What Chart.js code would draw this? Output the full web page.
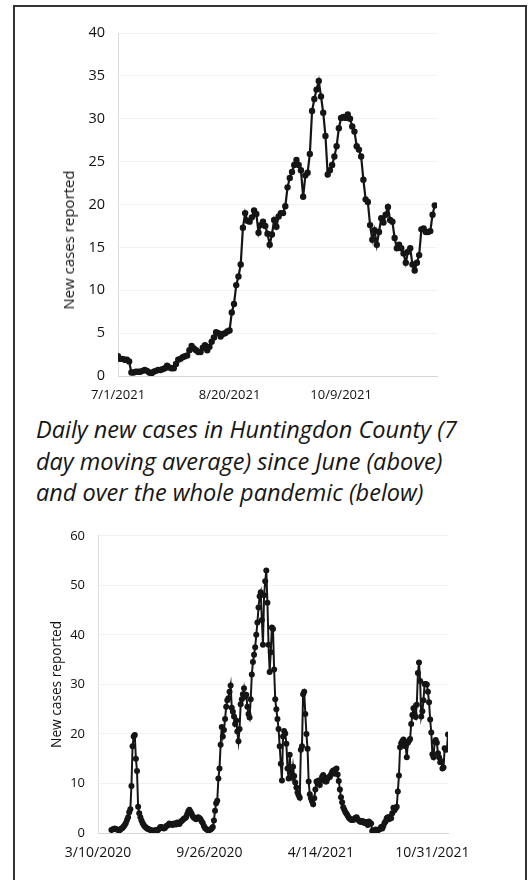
<!DOCTYPE html>
<html>
<head>
<meta charset="utf-8">
<title>Huntingdon County daily new cases</title>
<script src="https://cdn.jsdelivr.net/npm/chart.js@4.4.1/dist/chart.umd.min.js"></script>
<style>
  html, body { margin: 0; padding: 0; background: #fff; }
  body { width: 532px; height: 880px; position: relative; overflow: hidden; font-family: "Open Sans", sans-serif; }
  .frame { position: absolute; left: 13px; top: 5px; width: 514px; height: 900px; border: 2px solid #333; box-sizing: border-box; }
  canvas { position: absolute; left: 20px; }
  #recent { top: 10px; }
  #pandemic { top: 515px; }
  .ytitle { position: absolute; left: 68px; top: 240px; transform: translate(-50%, -50%) rotate(-90deg);
            font-size: 15px; color: #111; white-space: nowrap; }
  .caption { position: absolute; left: 36px; top: 414px; font-style: italic; font-size: 23.5px; line-height: 31.5px;
             color: #161616; white-space: nowrap; }
</style>
</head>
<body>
<div class="frame"></div>
<canvas id="recent" width="490" height="400"></canvas>
<div class="ytitle">New cases reported</div>
<div class="caption">Daily new cases in Huntingdon County (7<br>day moving average) since June (above)<br>and over the whole pandemic (below)</div>
<canvas id="pandemic" width="490" height="365"></canvas>
<script>
// top chart: one value per day, day 0 = 7/1/2021
var recentCases = [
  2.3, 2.0, 2.0, 1.9, 1.9, 1.7, 0.4, 0.4, 0.5, 0.5,
  0.5, 0.6, 0.7, 0.6, 0.4, 0.3, 0.5, 0.6, 0.7, 0.7,
  0.8, 0.9, 1.2, 1.0, 0.9, 0.9, 1.4, 1.9, 2.0, 2.2,
  2.3, 2.4, 3.0, 3.5, 3.2, 3.0, 2.8, 2.8, 3.3, 3.6,
  3.0, 3.4, 4.0, 4.5, 5.1, 5.0, 4.6, 4.9, 5.0, 5.2,
  5.3, 7.4, 8.4, 10.6, 11.6, 13.0, 17.3, 19.0, 18.1, 18.0,
  18.5, 19.3, 18.9, 16.7, 17.6, 18.0, 17.5, 16.6, 15.3, 16.5,
  18.2, 17.4, 18.6, 19.0, 19.0, 19.8, 22.0, 23.1, 23.8, 24.6,
  25.2, 24.6, 24.0, 20.9, 23.4, 23.7, 25.9, 30.9, 32.3, 33.4,
  34.4, 32.6, 30.7, 28.0, 23.5, 24.0, 24.6, 25.6, 26.8, 28.9,
  30.1, 30.2, 30.1, 30.5, 30.0, 29.1, 28.5, 26.8, 26.4, 25.6,
  22.9, 20.6, 20.3, 17.6, 15.9, 17.0, 15.3, 16.8, 18.4, 17.9,
  18.8, 19.7, 18.2, 18.0, 16.1, 14.9, 15.3, 14.9, 14.3, 13.2,
  14.5, 14.9, 13.0, 12.3, 13.2, 14.1, 17.1, 17.2, 16.8, 16.8,
  16.9, 18.8, 19.9
];
var recentTickLabels = ['7/1/2021', '8/20/2021', '10/9/2021'];
var recentTickStep = 50;

// bottom chart: every second day, starting 24 days after 3/10/2020
var pandemicStartDay = 24;
var pandemicStepDays = 2;
var pandemicCases = [
  0.6, 0.7, 0.8, 0.9, 0.8, 0.7, 0.6, 0.5, 0.7, 0.9,
  1.0, 1.3, 1.6, 2.0, 2.6, 3.2, 4.2, 4.8, 9.5, 17.5,
  19.5, 19.8, 15.0, 12.5, 5.3, 4.0, 3.2, 2.5, 2.0, 1.6,
  1.3, 1.1, 0.9, 0.8, 0.7, 0.6, 0.5, 0.5, 0.4, 0.5,
  0.6, 0.5, 0.6, 0.9, 1.2, 1.2, 1.0, 0.9, 1.0, 1.3,
  1.5, 1.6, 1.9, 1.7, 1.8, 1.6, 1.9, 1.8, 1.7, 2.1,
  2.0, 1.8, 2.2, 2.4, 2.6, 2.9, 3.0, 3.2, 3.8, 4.4,
  4.7, 4.3, 3.9, 3.4, 3.1, 3.0, 2.8, 3.1, 3.2, 3.0,
  2.8, 2.3, 2.0, 1.4, 1.0, 0.8, 0.6, 0.5, 0.6, 0.7,
  0.9, 1.2, 2.5, 4.5, 6.0, 6.5, 11.0, 13.0, 17.8, 21.4,
  19.5, 20.8, 23.0, 25.5, 26.8, 27.2, 28.5, 29.8, 25.3, 24.5,
  23.5, 22.0, 22.7, 20.5, 18.5, 21.0, 26.0, 27.0, 28.0, 29.2,
  27.5, 27.9, 25.5, 24.0, 23.3, 27.0, 32.0, 34.5, 36.0, 37.5,
  40.0, 42.5, 45.5, 47.8, 48.6, 43.0, 38.0, 48.0, 50.8, 53.0,
  46.5, 38.0, 32.5, 36.5, 41.5, 41.2, 33.0, 27.0, 25.0, 23.0,
  21.0, 17.5, 14.0, 10.6, 19.5, 20.6, 20.1, 18.0, 13.0, 11.0,
  15.8, 12.3, 11.2, 13.4, 11.5, 10.2, 9.2, 8.2, 7.6, 7.1,
  16.8, 17.5, 28.0, 28.5, 24.0, 20.0, 17.0, 10.4, 7.8, 7.0,
  6.4, 5.8, 7.0, 8.8, 10.4, 10.0, 10.6, 9.7, 10.6, 11.3,
  11.7, 11.0, 10.4, 10.4, 11.0, 11.3, 11.3, 11.8, 12.3, 12.6,
  12.0, 12.8, 13.0, 11.8, 10.5, 8.8, 7.2, 6.2, 5.2, 4.7,
  4.2, 3.9, 3.5, 3.1, 2.9, 2.7, 2.6, 2.6, 2.9, 3.1,
  3.2, 2.8, 2.5, 2.3, 2.2, 2.4, 2.3, 2.0, 2.2, 2.1,
  1.6,
  // from 7/1/2021 on (same data as the top chart)
  2.3, 2.0, 1.9, 0.4, 0.5, 0.5, 0.7, 0.4, 0.5, 0.7,
  0.8, 1.2, 0.9, 1.4, 2.0, 2.3, 3.0, 3.2, 2.8, 3.3,
  3.0, 4.0, 5.1, 4.6, 5.0, 5.3, 8.4, 11.6, 17.3, 18.1,
  18.5, 18.9, 17.6, 17.5, 15.3, 18.2, 18.6, 19.0, 22.0, 23.8,
  25.2, 24.0, 23.4, 25.9, 32.3, 34.4, 30.7, 23.5, 24.6, 26.8,
  30.1, 30.1, 30.0, 28.5, 26.4, 22.9, 20.3, 15.9, 15.3, 18.4,
  18.8, 18.2, 16.1, 15.3, 14.3, 14.5, 13.0, 13.2, 17.1, 16.8,
  16.9, 19.9
];
var pandemicTickLabels = ['3/10/2020', '9/26/2020', '4/14/2021', '10/31/2021'];
var pandemicTickStep = 200;

Chart.defaults.font.family = "'Open Sans', sans-serif";
Chart.defaults.color = '#111';

function caseChart(id, points, cfg) {
    return new Chart(document.getElementById(id), {
        type: 'line',
        data: {
            datasets: [{
                data: points,
                borderColor: '#151515',
                backgroundColor: '#151515',
                borderWidth: cfg.lineWidth,
                pointRadius: cfg.dot,
                pointBorderWidth: 0,
                tension: 0
            }]
        },
        options: {
            responsive: false,
            animation: false,
            layout: { padding: cfg.padding },
            plugins: { legend: { display: false }, tooltip: { enabled: false } },
            scales: {
                x: {
                    type: 'linear',
                    min: 0,
                    max: cfg.xMax,
                    grid: { display: false, drawTicks: false },
                    border: { color: '#d6d6d6' },
                    ticks: {
                        autoSkip: false,
                        maxRotation: 0,
                        padding: cfg.xPad,
                        font: { size: cfg.xFont },
                        callback: function(v) { return cfg.xLabels[Math.round(v / cfg.xStep)]; }
                    },
                    // one tick per date label
                    afterBuildTicks: function(s) {
                        s.ticks = cfg.xLabels.map(function(lbl, i) { return { value: i * cfg.xStep }; });
                    },
                    afterFit: function(s) { s.height = cfg.xHeight; }
                },
                y: {
                    min: 0,
                    max: cfg.yMax,
                    grid: { color: '#f1f1f1', drawTicks: false },
                    border: { color: '#dedede' },
                    title: cfg.yTitle,
                    ticks: { stepSize: cfg.yStep, padding: 13, font: { size: cfg.yFont } },
                    afterFit: function(s) { s.width = cfg.yWidth; }
                }
            }
        }
    });
}

caseChart('recent', recentCases.map(function(v, i) { return { x: i, y: v }; }), {
    lineWidth: 2.2, dot: 3.2,
    padding: { left: 0, top: 23, right: 73, bottom: 0 },
    xMax: 143, xStep: recentTickStep, xLabels: recentTickLabels, xPad: 11, xFont: 13, xHeight: 34,
    yMax: 40, yStep: 5, yFont: 14.5, yWidth: 98,
    yTitle: { display: false }
});

caseChart('pandemic', pandemicCases.map(function(v, i) {
    return { x: pandemicStartDay + i * pandemicStepDays, y: v };
}), {
    lineWidth: 2, dot: 3,
    padding: { left: 0, top: 10, right: 62, bottom: 0 },
    xMax: 628, xStep: pandemicTickStep, xLabels: pandemicTickLabels, xPad: 12, xFont: 14, xHeight: 47,
    yMax: 60, yStep: 10, yFont: 13, yWidth: 78,
    yTitle: { display: true, text: 'New cases reported', color: '#111', font: { size: 13.7 }, padding: { top: 29 } }
});
</script>
</body>
</html>
